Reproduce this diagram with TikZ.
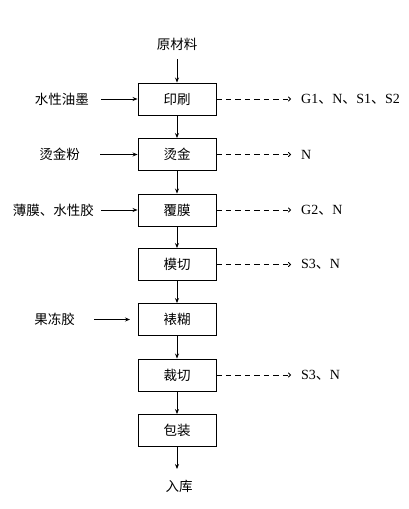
\documentclass[tikz,border=0pt]{standalone}
\usepackage{fontspec}
\setmainfont{Liberation Serif}
\newfontfamily\cjk{Noto Sans CJK SC}
\usetikzlibrary{arrows.meta}
\begin{document}
\begin{tikzpicture}[x=1pt,y=-1pt,
  every node/.style={font=\fontsize{13.5}{16}\selectfont\cjk},
  procbox/.style={draw,line width=0.9pt,minimum width=78pt,minimum height=32pt,inner sep=0pt},
  flow/.style={line width=0.9pt,-{Stealth[length=5pt,width=4pt]}},
  emit/.style={line width=0.9pt,dashed,dash pattern=on 5.5pt off 4pt,-{To[length=3pt,width=5pt]}},
  lbl/.style={inner sep=0pt},
  latin/.style={inner sep=0pt,font=\fontsize{14}{16}\selectfont}]
\useasboundingbox (0,0) rectangle (409,509);
\node[lbl] (raw) at (177,44) {原材料};
\node[procbox] (b1) at (177,99) {印刷};
\node[procbox] (b2) at (177,154.5) {烫金};
\node[procbox] (b3) at (177,210) {覆膜};
\node[procbox] (b4) at (177,264.5) {模切};
\node[procbox] (b5) at (177,319.5) {裱糊};
\node[procbox] (b6) at (177,375) {裁切};
\node[procbox] (b7) at (177,430.5) {包装};
\node[lbl] (out) at (179,486) {入库};
\coordinate (rawE) at (177,59);
\coordinate (outS) at (177,469);
\draw[flow] (rawE) -- (b1);
\draw[flow] (b1) -- (b2);
\draw[flow] (b2) -- (b3);
\draw[flow] (b3) -- (b4);
\draw[flow] (b4) -- (b5);
\draw[flow] (b5) -- (b6);
\draw[flow] (b6) -- (b7);
\draw[flow] (b7) -- (outS);
% left inputs
\node[lbl,anchor=east] (i1) at (89,99) {水性油墨};
\node[lbl,anchor=east] (i2) at (80,154.5) {烫金粉};
\node[lbl,anchor=east] (i3) at (94,210) {薄膜、水性胶};
\node[lbl,anchor=east] (i5) at (75,319.5) {果冻胶};
\coordinate (i1s) at (101,99);
\coordinate (i2s) at (100,154.5);
\coordinate (i3s) at (101,210);
\coordinate (i5s) at (94,319.5);
\coordinate (i5e) at (130,319.5);
\draw[flow] (i1s) -- (b1.west);
\draw[flow] (i2s) -- (b2.west);
\draw[flow] (i3s) -- (b3.west);
\draw[flow] (i5s) -- (i5e);
% right outputs
\node[latin,anchor=west] (o1) at (301,99) {G1{\cjk 、}N{\cjk 、}S1{\cjk 、}S2};
\node[latin,anchor=west] (o2) at (301,154.5) {N};
\node[latin,anchor=west] (o3) at (301,210) {G2{\cjk 、}N};
\node[latin,anchor=west] (o4) at (301,264.5) {S3{\cjk 、}N};
\node[latin,anchor=west] (o6) at (301,375) {S3{\cjk 、}N};
\coordinate (e1) at (291,99);
\coordinate (e2) at (291,154.5);
\coordinate (e3) at (291,210);
\coordinate (e4) at (291,264.5);
\coordinate (e6) at (291,375);
\draw[emit] (b1.east) -- (e1);
\draw[emit] (b2.east) -- (e2);
\draw[emit] (b3.east) -- (e3);
\draw[emit] (b4.east) -- (e4);
\draw[emit] (b6.east) -- (e6);
\end{tikzpicture}
\end{document}
